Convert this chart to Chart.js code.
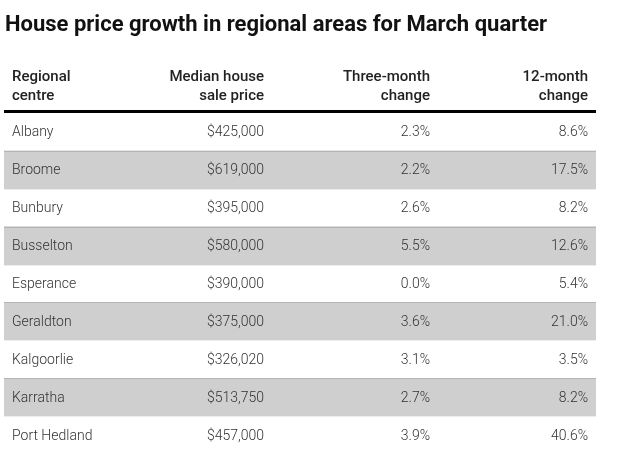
<!DOCTYPE html>
<html>
<head>
<meta charset="utf-8">
<script src="https://cdn.jsdelivr.net/npm/chart.js@4"></script>
<style>
  html, body { margin: 0; padding: 0; background: #fff; }
  canvas { display: block; }
</style>
</head>
<body>
<canvas id="tableChart" width="618" height="462"></canvas>
<script>
// Table values
const centres = ['Albany', 'Broome', 'Bunbury', 'Busselton', 'Esperance', 'Geraldton', 'Kalgoorlie', 'Karratha', 'Port Hedland'];
const medianPrices = [425000, 619000, 395000, 580000, 390000, 375000, 326020, 513750, 457000];
const threeMonthChange = [2.3, 2.2, 2.6, 5.5, 0.0, 3.6, 3.1, 2.7, 3.9];
const twelveMonthChange = [8.6, 17.5, 8.2, 12.6, 5.4, 21.0, 3.5, 8.2, 40.6];
const headers = [['Regional', 'centre'], ['Median house', 'sale price'], ['Three-month', 'change'], ['12-month', 'change']];
const title = 'House price growth in regional areas for March quarter';

// striped rows: every second row gets a grey band
const stripes = centres.map((c, i) => i % 2 === 1 ? [0, 1] : null);

const fmtPrice = v => '$' + v.toLocaleString('en-US');
const fmtPct = v => v.toFixed(1) + '%';

const tablePlugin = {
    id: 'tableText',
    afterDatasetsDraw(chart) {
        const ctx = chart.ctx;
        const area = chart.chartArea;
        const yScale = chart.scales.y;
        const meta = chart.getDatasetMeta(0);

        // band borders
        meta.data.forEach((bar, i) => {
            if (stripes[i] === null) return;
            const top = bar.y - bar.height / 2;
            const bottom = bar.y + bar.height / 2;
            ctx.fillStyle = '#b4b4b4';
            ctx.fillRect(area.left, Math.round(top), area.right - area.left, 1);
            ctx.fillStyle = '#ececec';
            ctx.fillRect(area.left, Math.round(bottom), area.right - area.left, 1);
        });

        // column anchors: [x, align]
        const cols = [
            [area.left + 8, 'left'],
            [area.left + 260, 'right'],
            [area.left + 426, 'right'],
            [area.right - 8, 'right']
        ];

        // title
        ctx.save();
        ctx.fillStyle = '#111';
        ctx.font = 'bold 22px Roboto';
        ctx.textAlign = 'left';
        ctx.textBaseline = 'alphabetic';
        ctx.fillText(title, 5, 31);

        // header
        ctx.font = '500 15px Roboto';
        ctx.fillStyle = '#222';
        headers.forEach((lines, c) => {
            ctx.textAlign = cols[c][1];
            lines.forEach((t, k) => ctx.fillText(t, cols[c][0], 81 + k * 19));
        });
        ctx.fillStyle = '#000';
        ctx.fillRect(area.left, area.top - 3, area.right - area.left, 3);

        // body cells
        ctx.font = '300 14px Roboto';
        ctx.fillStyle = '#333';
        ctx.textBaseline = 'middle';
        centres.forEach((name, i) => {
            const y = yScale.getPixelForValue(i);
            const cells = [name, fmtPrice(medianPrices[i]), fmtPct(threeMonthChange[i]), fmtPct(twelveMonthChange[i])];
            cells.forEach((t, c) => {
                ctx.textAlign = cols[c][1];
                ctx.fillText(t, cols[c][0], y + 1);
            });
        });
        ctx.restore();
    }
};

window.onload = function() {
    new Chart(document.getElementById('tableChart'), {
        type: 'bar',
        data: {
            labels: centres,
            datasets: [{
                data: stripes,
                backgroundColor: '#cfcfcf',
                borderWidth: 0,
                categoryPercentage: 1,
                barPercentage: 1
            }]
        },
        options: {
            indexAxis: 'y',
            responsive: false,
            animation: false,
            layout: { padding: { left: 4, right: 22, top: 113, bottom: 8 } },
            scales: {
                x: { display: false, min: 0, max: 1 },
                y: { display: false }
            },
            plugins: {
                legend: { display: false },
                tooltip: { enabled: false }
            }
        },
        plugins: [tablePlugin]
    });
};
</script>
</body>
</html>
